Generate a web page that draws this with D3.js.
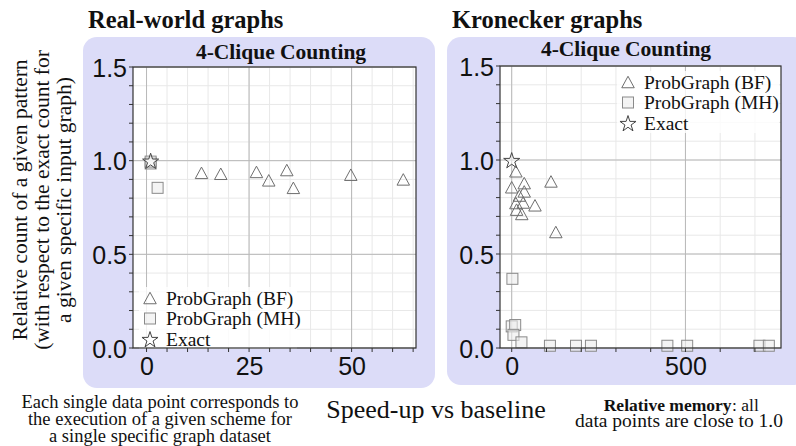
<!DOCTYPE html>
<html><head><meta charset="utf-8">
<script src="https://cdn.jsdelivr.net/npm/d3@7"></script>
<style>body{margin:0;background:#fff}svg{display:block}</style>
</head><body>
<svg id="c" width="796" height="446"></svg>
<script>
// ---- data ----
const yTicks = [0.0, 0.5, 1.0, 1.5];
const realXTicks = [0, 25, 50];
const kronXTicks = [0, 500];
const legendLabels = ["ProbGraph (BF)", "ProbGraph (MH)", "Exact"];

const realBF_x = [13.4, 18.1, 26.8, 29.8, 34.2, 35.8, 49.8, 62.6];
const realBF_y = [0.935, 0.93, 0.94, 0.895, 0.95, 0.855, 0.925, 0.9];
const realMH_x = [1.0, 1.0, 2.7];
const realMH_y = [0.985, 0.995, 0.855];
const realExact_x = [1.0];
const realExact_y = [1.0];

const kronBF_x = [12, 0, 36, 36, 22, 33, 12, 14, 29, 67, 113, 127];
const kronBF_y = [0.94, 0.855, 0.877, 0.833, 0.811, 0.774, 0.771, 0.736, 0.713, 0.759, 0.886, 0.617];
const kronMH_x = [2, 0, 10, 5, 28, 110, 185, 228, 448, 505, 713, 740];
const kronMH_y = [0.368, 0.115, 0.122, 0.07, 0.03, 0.012, 0.012, 0.012, 0.012, 0.012, 0.012, 0.012];
const kronExact_x = [0];
const kronExact_y = [1.0];

const SERIF = "'Liberation Serif', 'Times New Roman', serif";
const SANS = "'Liberation Sans', Arial, sans-serif";
const svg = d3.select("#c");

function tri(s){ const h=s/2; return `M0,${-h*0.92}L${h},${h*0.92}L${-h},${h*0.92}Z`; }
const starPath = d3.symbol().type(d3.symbolStar).size(80)();

function drawMarker(g, type, x, y){
  if(type==="BF"){
    g.append("path").attr("d", tri(12.5)).attr("transform",`translate(${x},${y})`)
      .attr("fill","none").attr("stroke","#6e6e6e").attr("stroke-width",1);
  } else if(type==="MH"){
    g.append("rect").attr("x",x-5.5).attr("y",y-5.5).attr("width",11).attr("height",11)
      .attr("fill","#ececec").attr("fill-opacity",0.6).attr("stroke","#8a8a8a").attr("stroke-width",1);
  } else {
    g.append("path").attr("d", starPath).attr("transform",`translate(${x},${y+1})`)
      .attr("fill","#fff").attr("fill-opacity",0.5).attr("stroke","#444").attr("stroke-width",1);
  }
}

function panel(cfg){
  svg.append("rect").attr("x",cfg.bx).attr("y",cfg.by).attr("width",cfg.bw).attr("height",cfg.bh)
    .attr("rx",14).attr("fill","#dcdcf8");
  const x = d3.scaleLinear().domain(cfg.xd).range([cfg.l, cfg.r]);
  const y = d3.scaleLinear().domain([0,1.5]).range([cfg.b, cfg.t]);
  const g = svg.append("g");
  g.append("rect").attr("x",cfg.l).attr("y",cfg.t).attr("width",cfg.r-cfg.l).attr("height",cfg.b-cfg.t).attr("fill","#fff");
  // minor grid
  const xMinor = d3.range(cfg.minorStart, cfg.xd[1], cfg.minorStep).filter(v=>v>=cfg.xd[0]);
  const yMinor = d3.range(0, 1.5001, 0.1);
  g.selectAll(".mx").data(xMinor).join("line").attr("x1",d=>x(d)).attr("x2",d=>x(d)).attr("y1",cfg.t).attr("y2",cfg.b)
    .attr("stroke","#e8e8e8").attr("stroke-width",1);
  g.selectAll(".my").data(yMinor).join("line").attr("y1",d=>y(d)).attr("y2",d=>y(d)).attr("x1",cfg.l).attr("x2",cfg.r)
    .attr("stroke","#e8e8e8").attr("stroke-width",1);
  // major grid
  g.selectAll(".Mx").data(cfg.xTicks).join("line").attr("x1",d=>x(d)).attr("x2",d=>x(d)).attr("y1",cfg.t).attr("y2",cfg.b)
    .attr("stroke","#b8b8b8").attr("stroke-width",1);
  g.selectAll(".My").data(yTicks).join("line").attr("y1",d=>y(d)).attr("y2",d=>y(d)).attr("x1",cfg.l).attr("x2",cfg.r)
    .attr("stroke","#b8b8b8").attr("stroke-width",1);
  // legend background
  g.append("rect").attr("x",cfg.lgx-11).attr("y",cfg.lgy-11).attr("width",cfg.lgw).attr("height",62)
    .attr("fill","#fff").attr("fill-opacity",0.8);
  // data
  const dg = svg.append("g");
  cfg.mh_x.forEach((v,i)=>drawMarker(dg,"MH",x(v),y(cfg.mh_y[i])));
  cfg.bf_x.forEach((v,i)=>drawMarker(dg,"BF",x(v),y(cfg.bf_y[i])));
  cfg.ex_x.forEach((v,i)=>drawMarker(dg,"EX",x(v),y(cfg.ex_y[i])));
  // frame
  svg.append("rect").attr("x",cfg.l).attr("y",cfg.t).attr("width",cfg.r-cfg.l).attr("height",cfg.b-cfg.t)
    .attr("fill","none").attr("stroke","#333").attr("stroke-width",1.2);
  // ticks
  const tg = svg.append("g").attr("stroke","#333").attr("stroke-width",1);
  tg.selectAll(".ty").data(yMinor).join("line").attr("x1",cfg.l-4).attr("x2",cfg.l).attr("y1",d=>y(d)).attr("y2",d=>y(d));
  tg.selectAll(".tx").data(xMinor).join("line").attr("y1",cfg.b).attr("y2",cfg.b+4).attr("x1",d=>x(d)).attr("x2",d=>x(d));
  // axes labels via d3 axis
  const ya = svg.append("g").attr("transform",`translate(${cfg.l},0)`)
    .call(d3.axisLeft(y).tickValues(yTicks).tickFormat(d3.format(".1f")).tickSize(0).tickPadding(6));
  ya.select(".domain").remove();
  ya.selectAll("text").attr("font-family",SANS).attr("font-size",25).attr("fill","#111").attr("dy","0.36em");
  const xa = svg.append("g").attr("transform",`translate(0,${cfg.b})`)
    .call(d3.axisBottom(x).tickValues(cfg.xTicks).tickFormat(d3.format("d")).tickSize(0).tickPadding(9));
  xa.select(".domain").remove();
  xa.selectAll("text").attr("font-family",SANS).attr("font-size",25).attr("fill","#111");
  // title
  svg.append("text").attr("x",cfg.tx).attr("y",cfg.ty).attr("text-anchor","middle")
    .attr("font-family",SERIF).attr("font-weight","bold").attr("font-size",21.5).attr("fill","#111").text("4-Clique Counting");
  svg.append("text").attr("x",cfg.hx).attr("y",28).attr("font-family",SERIF).attr("font-weight","bold")
    .attr("font-size",24.5).attr("fill","#111").text(cfg.header);
  // legend
  const types = ["BF","MH","EX"];
  legendLabels.forEach((lab,i)=>{
    const yy = cfg.lgy + i*20.5;
    drawMarker(svg, types[i], cfg.lgx, yy);
    svg.append("text").attr("x",cfg.lgx+16).attr("y",yy+6.5).attr("font-family",SERIF).attr("font-size",19.5)
      .attr("fill","#111").text(lab);
  });
}

panel({bx:83,by:37,bw:352,bh:351,l:133,r:416,t:67,b:348,xd:[-3.3,65.7],xTicks:realXTicks,minorStart:0,minorStep:5,
  bf_x:realBF_x,bf_y:realBF_y,mh_x:realMH_x,mh_y:realMH_y,ex_x:realExact_x,ex_y:realExact_y,
  lgx:150,lgy:298,lgw:158,tx:281,ty:59,hx:88,header:"Real-world graphs"});
panel({bx:447,by:37,bw:360,bh:348,l:500,r:781,t:66,b:348,xd:[-33.7,775],xTicks:kronXTicks,minorStart:0,minorStep:100,
  bf_x:kronBF_x,bf_y:kronBF_y,mh_x:kronMH_x,mh_y:kronMH_y,ex_x:kronExact_x,ex_y:kronExact_y,
  lgx:628,lgy:82,lgw:162,tx:626,ty:56,hx:452,header:"Kronecker graphs"});

// y axis label
const yl = svg.append("text").attr("transform","translate(42,200) rotate(-90)").attr("text-anchor","middle")
  .attr("font-family",SERIF).attr("font-size",21.5).attr("fill","#111");
["Relative count of a given pattern","(with respect to the exact count for","a given specific input graph)"].forEach((t,i)=>{
  yl.append("tspan").attr("x",0).attr("y",(i-1)*22+7).text(t);
});
// bottom notes
["Each single data point corresponds to","the execution of a given scheme for","a single specific graph dataset"].forEach((t,i)=>{
  svg.append("text").attr("x",160).attr("y",408+i*17).attr("text-anchor","middle").attr("font-family",SERIF)
    .attr("font-size",18.5).attr("fill","#111").text(t);
});
svg.append("text").attr("x",436).attr("y",418).attr("text-anchor","middle").attr("font-family",SERIF)
  .attr("font-size",26).attr("fill","#111").text("Speed-up vs baseline");
// "Relative memory: all" as two pieces, centred together
const memB = svg.append("text").attr("y",411).attr("font-family",SERIF).attr("font-weight","bold")
  .attr("font-size",17.5).attr("fill","#111").text("Relative memory");
const memR = svg.append("text").attr("y",411).attr("font-family",SERIF)
  .attr("font-size",17.5).attr("fill","#111").text(": all");
const wB = memB.node().getComputedTextLength(), wR = memR.node().getComputedTextLength();
const start = 681 - (wB + wR)/2;
memB.attr("x", start);
memR.attr("x", start + wB + 0.5);
svg.append("text").attr("x",679).attr("y",427).attr("text-anchor","middle").attr("font-family",SERIF)
  .attr("font-size",19.5).attr("fill","#111").text("data points are close to 1.0");
</script>
</body></html>
